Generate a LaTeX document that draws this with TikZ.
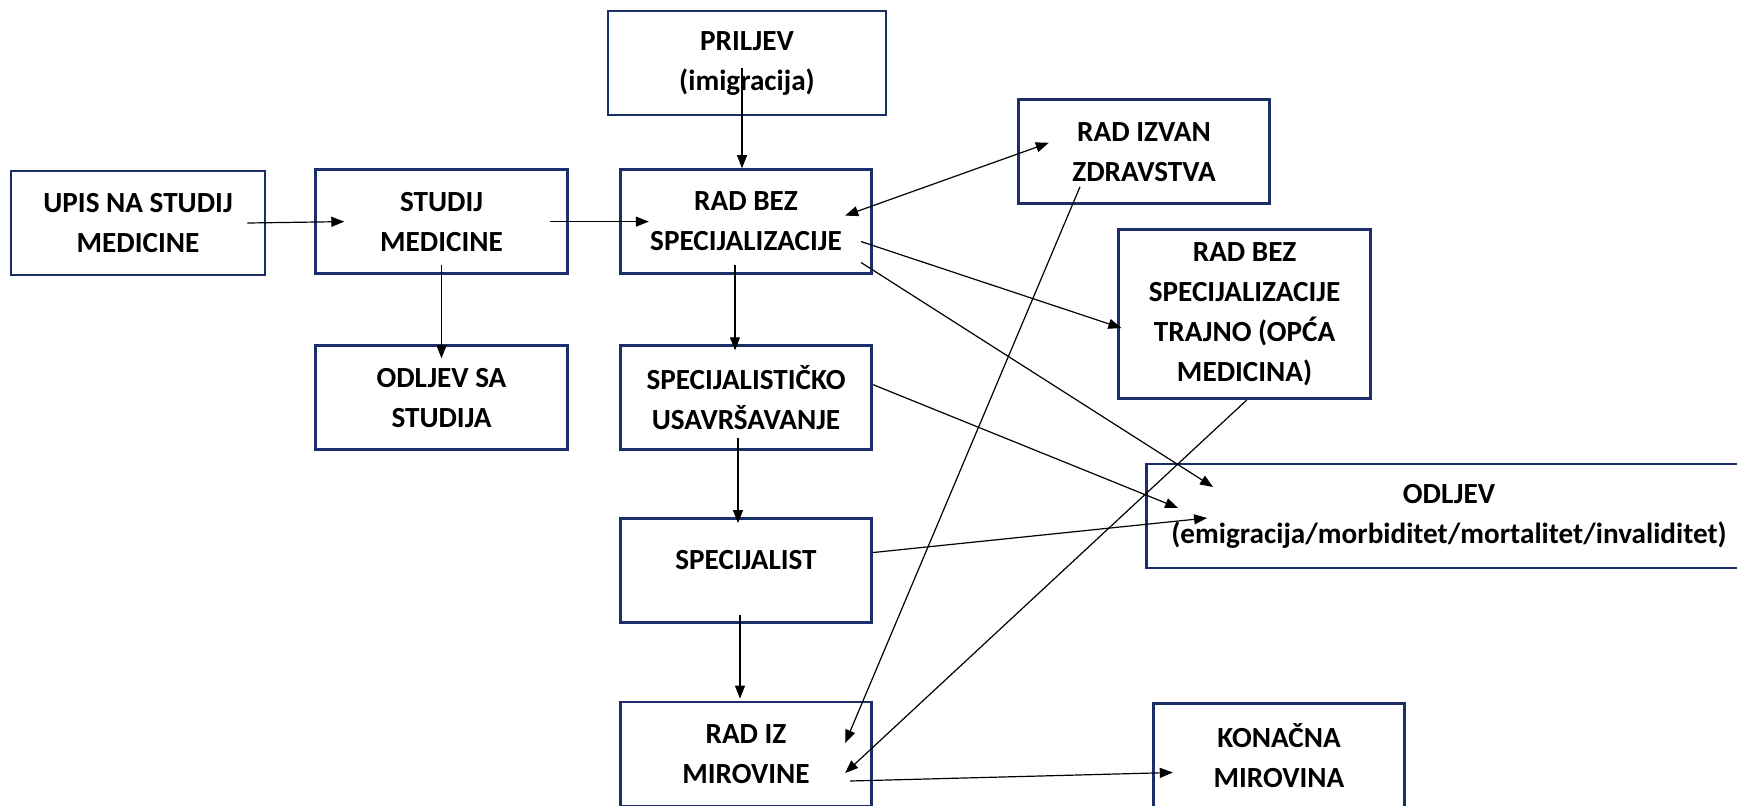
\documentclass[tikz,border=0pt]{standalone}
\usepackage{fontspec}
\setmainfont{Carlito}
\usetikzlibrary{arrows.meta, calc}
\definecolor{BoxNavy}{RGB}{28,46,104}

\begin{document}
\begin{tikzpicture}[x=0.5pt, y=-0.5pt,
    box/.style={rectangle, draw=BoxNavy, line width=1.4pt,
                minimum width=125.8pt, minimum height=52pt, inner sep=0pt,
                font=\fontsize{14.6}{20}\selectfont\bfseries, align=center},
    >={Triangle[length=6.5pt, width=5pt]},
    every path/.append style={line width=0.6pt}
  ]
  \useasboundingbox (0,0) rectangle (1737,805);

  \node[box, minimum width=139pt]   (priljev)  at (747,63)      {PRILJEV\\(imigracija)};
  \node[box, minimum width=127pt]   (upis)     at (138,223)     {UPIS NA STUDIJ\\MEDICINE};
  \node[box]                        (studij)   at (441.5,221.6) {STUDIJ\\MEDICINE};
  \node[box]                        (radbez)   at (746,221.6)   {RAD BEZ\\SPECIJALIZACIJE};
  \node[box]                        (odljevsa) at (441.5,397.7) {ODLJEV SA\\STUDIJA};
  \node[box]                        (specus)   at (746,397.7)   {SPECIJALISTIČKO\\USAVRŠAVANJE};
  \node[box, text depth=11pt]       (spec)     at (746,570.5)   {SPECIJALIST};
  \node[box]                        (radmir)   at (746,754)     {RAD IZ\\MIROVINE};
  \node[box]                        (izvan)    at (1144,151.8)  {RAD IZVAN\\ZDRAVSTVA};
  \node[box, minimum height=84.75pt] (trajno)  at (1244.6,314)  {RAD BEZ\\SPECIJALIZACIJE\\TRAJNO (OPĆA\\MEDICINA)};
  \node[box, minimum width=302.5pt] (odljev)   at (1449,516)    {ODLJEV\\(emigracija/morbiditet/mortalitet/invaliditet)};
  \node[box]                        (konacna)  at (1279,755.5)  {KONAČNA\\MIROVINA};

  % main line
  \draw[->] ($(upis.east)+(-19,0)$)     -- ($(studij.west)+(30,0)$);
  \draw[->] ($(studij.east)+(-19,0)$)   -- ($(radbez.west)+(30,0)$);
  \draw[->] ($(studij.south)+(0,-10)$)  -- ($(odljevsa.north)+(0,14)$);
  \draw[->] ($(priljev.center)+(-5,5)$) -- ($(radbez.north)+(-4,0)$);
  \draw[->] ($(radbez.south)+(-11,-10)$) -- ($(specus.north)+(-11,6)$);
  \draw[->] ($(specus.south)+(-8,-13)$) -- ($(spec.north)+(-8,6)$);
  \draw[->] ($(spec.south)+(-6,-9)$)    -- ($(radmir.north)+(-6,-2)$);

  % side flows
  \draw[<->] ($(radbez.east)+(-28,-6)$) -- ($(izvan.west)+(32,-9)$);
  \draw[->] ($(radbez.east)+(-12,20)$)  -- ($(trajno.west)+(4,14)$);
  \draw[->] ($(radbez.east)+(-12,41)$)  -- ($(odljev.west)+(68,-29)$);
  \draw[->] ($(specus.east)+(0,-13)$)   -- ($(odljev.west)+(33,-8)$);
  \draw[->] ($(spec.east)+(0,-18)$)     -- ($(odljev.west)+(62,2)$);
  \draw[->] ($(izvan.center)+(-64,35)$) -- ($(radmir.east)+(-28,-11)$);
  \draw[->] ($(trajno.south)+(2,0)$)    -- ($(radmir.east)+(-28,19)$);
  \draw[->] ($(radmir.east)+(-23,27)$)  -- ($(konacna.west)+(21,17)$);
\end{tikzpicture}
\end{document}
